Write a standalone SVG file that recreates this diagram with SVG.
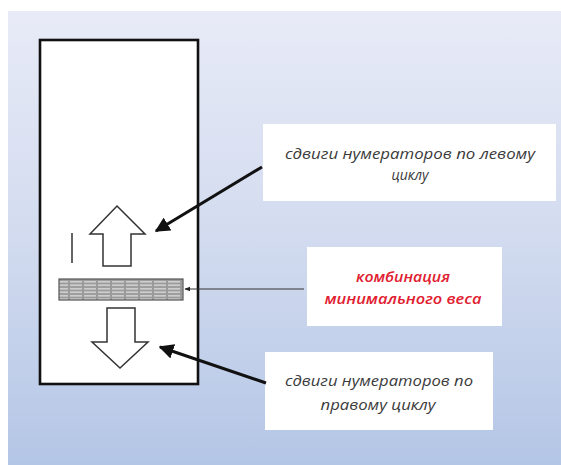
<svg xmlns="http://www.w3.org/2000/svg" width="561" height="465" viewBox="0 0 561 465">
  <defs>
    <linearGradient id="bg" x1="0" y1="0" x2="0" y2="1">
      <stop offset="0" stop-color="#e8ebf7"/>
      <stop offset="0.5" stop-color="#d2dbef"/>
      <stop offset="1" stop-color="#b4c6e6"/>
    </linearGradient>
    <pattern id="hatch" width="14" height="3.5" patternUnits="userSpaceOnUse">
      <rect width="14" height="3.5" fill="#9a9a9a"/>
      <line x1="0" y1="1.75" x2="12" y2="1.75" stroke="#f4f4f4" stroke-width="1"/>
    </pattern>
    <marker id="head" viewBox="0 0 10 10" refX="9" refY="5" markerWidth="5" markerHeight="5" orient="auto">
      <path d="M0,0 L10,5 L0,10 z" fill="#111"/>
    </marker>
    <marker id="headSmall" viewBox="0 0 10 10" refX="9" refY="5" markerWidth="6" markerHeight="6" orient="auto">
      <path d="M0,1 L10,5 L0,9 z" fill="#222"/>
    </marker>
  </defs>
  <style>
    .label { fill: #ffffff; }
    .txt { font-family: "Open Sans", "DejaVu Sans", sans-serif; font-style: italic; font-size: 14px; text-anchor: middle; fill: #3a3a3a; }
    .red { fill: #e02030; font-weight: 600; }
    .shape { fill: #ffffff; stroke: #333; stroke-width: 1.5; }
  </style>

  <rect x="0" y="0" width="561" height="465" fill="#ffffff"/>
  <rect x="8" y="11" width="553" height="454" fill="url(#bg)"/>

  <!-- column -->
  <g id="column">
    <rect x="40" y="40" width="158" height="344" fill="#ffffff" stroke="#111" stroke-width="2.6"/>
    <line x1="72" y1="233" x2="72" y2="263" stroke="#333" stroke-width="1.5"/>
    <path class="shape" d="M117,206 L145,234 L131,234 L131,266 L103,266 L103,234 L90,234 Z"/>
    <rect x="59" y="279" width="124" height="21" fill="url(#hatch)" stroke="#555" stroke-width="1.2"/>
    <path class="shape" d="M107,308 L135,308 L135,342 L148,342 L120,368 L92,342 L107,342 Z"/>
  </g>

  <!-- labels -->
  <g id="left-cycle">
    <rect class="label" x="263" y="124" width="293" height="77"/>
    <text class="txt" x="410" y="159" textLength="250" lengthAdjust="spacingAndGlyphs">сдвиги нумераторов по левому</text>
    <text class="txt" x="410" y="180">циклу</text>
  </g>
  <g id="min-weight">
    <rect class="label" x="307" y="247" width="195" height="79"/>
    <text class="txt red" x="403" y="282" textLength="94" lengthAdjust="spacingAndGlyphs">комбинация</text>
    <text class="txt red" x="403" y="304" textLength="157" lengthAdjust="spacingAndGlyphs">минимального веса</text>
  </g>
  <g id="right-cycle">
    <rect class="label" x="265" y="352" width="228" height="78"/>
    <text class="txt" x="379" y="386" textLength="188" lengthAdjust="spacingAndGlyphs">сдвиги нумераторов по</text>
    <text class="txt" x="378" y="410" textLength="115" lengthAdjust="spacingAndGlyphs">правому циклу</text>
  </g>

  <!-- connectors -->
  <g id="connectors" fill="none">
    <line x1="262" y1="167" x2="156" y2="231" stroke="#111" stroke-width="3" marker-end="url(#head)"/>
    <line x1="304" y1="289" x2="185" y2="289" stroke="#333" stroke-width="1" marker-end="url(#headSmall)"/>
    <line x1="266" y1="383" x2="160" y2="347" stroke="#111" stroke-width="3" marker-end="url(#head)"/>
  </g>
</svg>
